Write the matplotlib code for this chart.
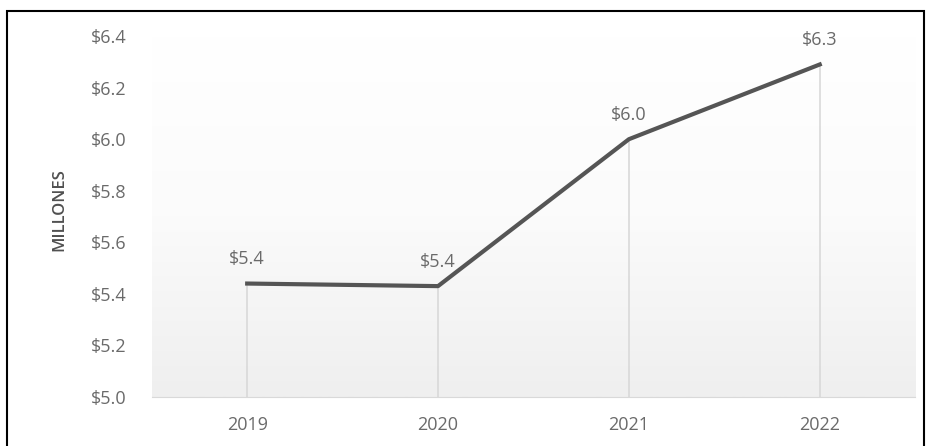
import numpy as np
import matplotlib.pyplot as plt
from matplotlib.colors import LinearSegmentedColormap
from matplotlib.patches import Rectangle

# Datos
anios = ["2019", "2020", "2021", "2022"]
valores = [5.44, 5.43, 6.0, 6.29]
etiquetas = ["$5.4", "$5.4", "$6.0", "$6.3"]
ticks_y = [5.0, 5.2, 5.4, 5.6, 5.8, 6.0, 6.2, 6.4]

plt.rcParams['font.family'] = ['Open Sans', 'DejaVu Sans']
gris = '#6a6a6a'

fig = plt.figure(figsize=(9.31, 4.46), dpi=100)
ax = fig.add_axes([0.163, 0.110, 0.820, 0.809])

x = np.arange(len(anios))
ax.set_xlim(-0.5, len(anios) - 0.5)
ax.set_ylim(5.0, 6.4)

# fondo degradado
grad = np.linspace(0.0, 1.0, 256).reshape(-1, 1)
cmap = LinearSegmentedColormap.from_list('g', ['#ffffff', '#fbfbfb', '#efefef'])
ax.imshow(grad, cmap=cmap, aspect='auto',
          extent=(-0.5, len(anios) - 0.5, 5.0, 6.4), origin='upper', zorder=0)

# lineas de caida
ax.vlines(x, 5.0, valores, color='#d9d9d9', lw=1.2, zorder=1)
ax.plot(x, valores, color='#555555', lw=3, solid_joinstyle='round', zorder=3)

for xi, v, t in zip(x, valores, etiquetas):
    ax.annotate(t, (xi, v), xytext=(0, 11), textcoords='offset points',
                ha='center', va='bottom', fontsize=13, color=gris)

ax.set_xticks(x)
ax.set_xticklabels(anios)
ax.set_yticks(ticks_y)
ax.set_yticklabels([f"${t:.1f}" for t in ticks_y])
ax.tick_params(length=0, labelsize=13, labelcolor=gris)
ax.tick_params(axis='y', pad=18)
ax.tick_params(axis='x', pad=14)
for s in ['top', 'right', 'left']:
    ax.spines[s].set_visible(False)
ax.spines['bottom'].set_color('#d9d9d9')
ax.set_ylabel("MILLONES", fontsize=12, color='#505050', fontweight='semibold')
ax.yaxis.set_label_coords(-0.11, 0.52)

# marco
fig.patches.append(Rectangle((0.008, -0.02), 0.984, 0.996, transform=fig.transFigure,
                             fill=False, edgecolor='black', lw=1.5))

fig.savefig("out.png", dpi=100)
